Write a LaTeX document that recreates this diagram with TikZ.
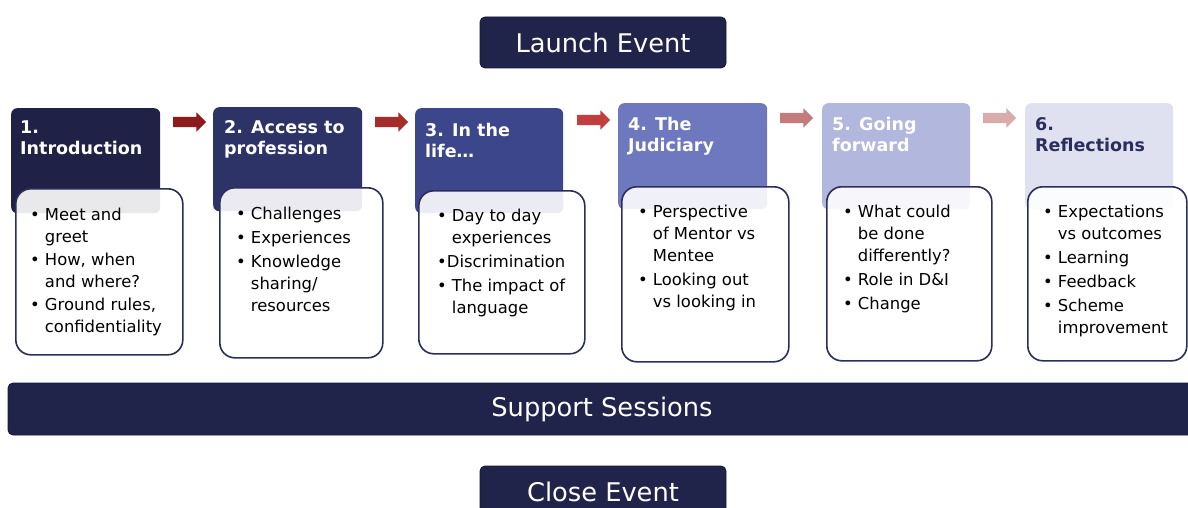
\documentclass[tikz,border=0pt]{standalone}
\usepackage{fontspec}
\setmainfont{DejaVu Sans}
\usetikzlibrary{shapes.arrows}
\definecolor{navy}{HTML}{20234A}
\definecolor{bord}{HTML}{2A2E5A}
\definecolor{hA}{HTML}{1F2146}
\definecolor{hB}{HTML}{2D3267}
\definecolor{hC}{HTML}{3C468A}
\definecolor{hD}{HTML}{6D78BF}
\definecolor{hE}{HTML}{B2B7DE}
\definecolor{hF}{HTML}{DFE1F1}
\definecolor{aA}{HTML}{8E1B1B}
\definecolor{aB}{HTML}{A62B2B}
\definecolor{aC}{HTML}{C43E3E}
\definecolor{aD}{HTML}{C47B7B}
\definecolor{aE}{HTML}{D9ABAB}
\newcommand\bl{\makebox[0.9em][l]{\textbullet}}
\newcommand\ind{\hspace*{0.9em}}
\tikzset{
  bar/.style={fill=navy, draw=navy!70!black, line width=0.8pt, rounded corners=5pt, text=white,
    font=\fontsize{25.7}{30}\selectfont, inner sep=0pt},
  hdr/.style={rounded corners=6pt, inner sep=0pt, anchor=north west},
  body/.style={rounded corners=15pt, draw=bord, line width=1.6pt, fill=white, fill opacity=0.9,
    anchor=north west, inner sep=0pt},
  ttl/.style={anchor=north west, inner sep=0pt, align=left, text=white,
    font=\bfseries\fontsize{17.5}{21}\selectfont},
  btxt/.style={anchor=north west, inner sep=0pt, align=left, text=black,
    font=\fontsize{16.4}{22}\selectfont},
  arr/.style={single arrow, single arrow head extend=4.5pt, minimum height=33pt,
    inner sep=5pt, draw=none}
}
\begin{document}
\begin{tikzpicture}[x=1pt,y=-1pt]
\useasboundingbox (0,0) rectangle (1188,508);
% top and bottom bars
\node[bar, minimum width=246pt, minimum height=51pt] (launch) at (603,42.5) {Launch Event};
\node[bar, minimum width=1188pt, minimum height=52pt] (support) at (602,409) {Support Sessions};
\node[bar, minimum width=246pt, minimum height=52pt] (close) at (603,492) {Close Event};
% headers
\node[hdr, fill=hA, minimum width=149pt, minimum height=105pt] (h1) at (11,108) {};
\node[hdr, fill=hB, minimum width=149pt, minimum height=104pt] (h2) at (213,107) {};
\node[hdr, fill=hC, minimum width=148pt, minimum height=105pt] (h3) at (415,108) {};
\node[hdr, fill=hD, minimum width=149pt, minimum height=106pt] (h4) at (618,103) {};
\node[hdr, fill=hE, minimum width=148pt, minimum height=106pt] (h5) at (822,103) {};
\node[hdr, fill=hF, minimum width=148pt, minimum height=106pt] (h6) at (1025,103) {};
% arrows
\node[arr, fill=aA] (a1) at (187,122) {};
\node[arr, fill=aB] (a2) at (389,122) {};
\node[arr, fill=aC] (a3) at (591,120) {};
\node[arr, fill=aD] (a4) at (794,118) {};
\node[arr, fill=aE] (a5) at (997,118) {};
% titles
\node[ttl] (t1) at (20,121) {1.\\Introduction};
\node[ttl] (t2) at (224,120) {2. Access to\\profession};
\node[ttl] (t3) at (425,123) {3. In the\\life…};
\node[ttl] (t4) at (628,117) {4. The\\Judiciary};
\node[ttl] (t5) at (832,117) {5. Going\\forward};
\node[ttl, text=bord] (t6) at (1035,117) {6.\\Reflections};
% bodies
\node[body, minimum width=167pt, minimum height=166pt] (b1) at (15,188) {};
\node[body, minimum width=163pt, minimum height=170pt] (b2) at (219,187) {};
\node[body, minimum width=166pt, minimum height=163pt] (b3) at (418,190) {};
\node[body, minimum width=167pt, minimum height=175pt] (b4) at (621,186) {};
\node[body, minimum width=165pt, minimum height=174pt] (b5) at (826,186) {};
\node[body, minimum width=159pt, minimum height=174pt] (b6) at (1027,186) {};
% body texts
\node[btxt] (x1) at (30,207.5) {\bl Meet and\\\ind greet\\[1pt]\bl How, when\\\ind and where?\\[1pt]\bl Ground rules,\\\ind confidentiality};
\node[btxt] (x2) at (236,206.5) {\bl Challenges\\[2pt]\bl Experiences\\[2pt]\bl Knowledge\\\ind sharing/\\\ind resources};
\node[btxt] (x3) at (437,208.5) {\bl Day to day\\\ind experiences\\[2pt]\textbullet Discrimination\\[2pt]\bl The impact of\\\ind language};
\node[btxt] (x4) at (638,204.5) {\bl Perspective\\\ind of Mentor vs\\\ind Mentee\\[2pt]\bl Looking out\\\ind vs looking in};
\node[btxt] (x5) at (843,204.5) {\bl What could\\\ind be done\\\ind differently?\\[2pt]\bl Role in D\&I\\[2pt]\bl Change};
\node[btxt] (x6) at (1043,204.5) {\bl Expectations\\\ind vs outcomes\\[2pt]\bl Learning\\[2pt]\bl Feedback\\[2pt]\bl Scheme\\\ind improvement};
\end{tikzpicture}
\end{document}
